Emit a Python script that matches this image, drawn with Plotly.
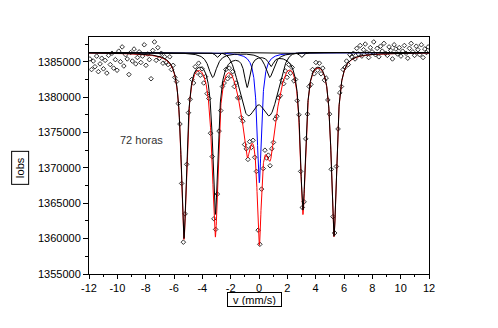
import numpy as np
import plotly.graph_objects as go

# ---------------- data ----------------
BASELINE = 1386300  # counts, off-resonance level of the fit

# observed counts (in thousands), one per velocity channel, -11.94 .. 11.94 mm/s
obs_thousands = [
    1385.4, 1383.9, 1385.1, 1384.3, 1385.8, 1383.6, 1384.7, 1385.5, 1384.0, 1385.2,
    1383.4, 1385.9, 1384.6, 1386.2, 1384.1, 1385.3, 1383.8, 1386.5, 1385.0, 1387.1,
    1384.4, 1386.0, 1385.4, 1383.2, 1386.3, 1385.1, 1386.8, 1384.7, 1385.6, 1386.4,
    1384.9, 1385.8, 1387.4, 1384.5, 1386.1, 1385.3, 1382.6, 1386.6, 1387.8, 1385.2,
    1387.0, 1385.5, 1386.2, 1384.8, 1385.7, 1384.9, 1384.6, 1385.7, 1383.9, 1384.5,
    1382.8, 1382.2, 1379.1, 1376.2, 1367.8, 1359.5, 1363.5, 1370.5, 1377.8, 1379.7,
    1382.5, 1382.0, 1384.3, 1383.5, 1384.8, 1383.1, 1384.0, 1382.0, 1382.9, 1380.5,
    1379.8, 1374.9, 1371.6, 1362.8, 1361.3, 1366.3, 1375.2, 1378.1, 1381.5, 1382.0,
    1383.9, 1382.6, 1384.1, 1383.0, 1383.6, 1381.5, 1382.0, 1379.9, 1379.9, 1377.1,
    1376.6, 1373.3, 1372.7, 1371.2, 1373.7, 1372.9, 1373.9, 1371.5, 1369.5, 1361.2,
    1359.2, 1367.0, 1369.9, 1372.5, 1371.4, 1371.8, 1370.3, 1372.7, 1373.6, 1376.9,
    1377.3, 1379.9, 1380.2, 1382.4, 1381.9, 1383.7, 1382.8, 1384.6, 1383.4, 1384.2,
    1382.3, 1382.5, 1379.5, 1377.5, 1369.5, 1364.4, 1365.2, 1374.1, 1377.6, 1381.5,
    1381.8, 1383.9, 1383.3, 1384.9, 1383.8, 1384.8, 1383.3, 1384.1, 1382.4, 1382.7,
    1379.6, 1377.6, 1369.8, 1363.1, 1360.8, 1370.2, 1375.5, 1380.6, 1381.5, 1383.9,
    1384.2, 1385.1, 1384.6, 1386.0, 1385.7, 1386.2, 1385.4, 1386.9, 1386.1, 1387.3,
    1385.8, 1386.7, 1387.5, 1386.3, 1385.6, 1387.0, 1386.4, 1387.8, 1386.0, 1386.9,
    1385.7, 1387.2, 1386.5, 1387.6, 1386.2, 1385.9, 1387.1, 1386.6, 1385.4, 1387.4,
    1386.8, 1386.1, 1387.0, 1385.8, 1386.5, 1387.3, 1386.2, 1385.5, 1386.9, 1387.6,
    1386.4, 1385.9, 1387.2, 1386.7, 1386.0, 1387.4, 1385.6, 1386.8, 1386.3, 1387.1,
]
V_FIRST, V_LAST = -11.94, 11.94

# fitted sub-spectra (line positions mm/s, depths in counts, widths mm/s)
sextet_pos = [-5.30, -3.08, -0.84, 0.84, 3.10, 5.29]
sextet_depth = [26000, 22500, 4500, 1500, 21900, 25700]
sextet_hwhm = 0.23

singlet_pos = [0.02]
singlet_depth = [18400]
singlet_hwhm = 0.19

broad_pos = [-0.80, 0.76]
broad_depth = [8600, 8600]
broad_sigma = 0.60

minor_pos = [-3.27, 0.75]
minor_depth = [3500, 3500]
minor_hwhm = 0.35

weak_pos = [-2.95, 3.00]
weak_depth = [700, 700]
weak_hwhm = 0.15

x_tickvals = [-12, -10, -8, -6, -4, -2, 0, 2, 4, 6, 8, 10, 12]
x_ticktext = ["-12", "-10", "-8", "-6", "-4", "-2", "0", "2", "4", "6", "8", "10", "12"]

# ---------------- build curves ----------------
vel = np.linspace(V_FIRST, V_LAST, len(obs_thousands))
counts = np.array(obs_thousands) * 1000.0
v = np.linspace(-12, 12, 2401)


def lorentz(pos, depth, hw):
    out = np.zeros_like(v)
    for c, d in zip(pos, depth):
        out += d / (1.0 + ((v - c) / hw) ** 2)
    return out


def gauss(pos, depth, s):
    out = np.zeros_like(v)
    for c, d in zip(pos, depth):
        out += d * np.exp(-((v - c) ** 2) / (2 * s * s))
    return out


sext = lorentz(sextet_pos, sextet_depth, sextet_hwhm)
sing = lorentz(singlet_pos, singlet_depth, singlet_hwhm)
broad = gauss(broad_pos, broad_depth, broad_sigma)
minor = lorentz(minor_pos, minor_depth, minor_hwhm)
weak = lorentz(weak_pos, weak_depth, weak_hwhm)
total = sext + sing + broad + minor + weak

FONT = "Liberation Sans, Arial, sans-serif"
fig = go.Figure()

fig.add_trace(go.Scatter(x=vel, y=counts, mode="markers",
                         marker=dict(symbol="diamond-open", size=3.5, color="black",
                                     line=dict(width=0.8, color="black"))))
fig.add_trace(go.Scatter(x=v, y=BASELINE - total, mode="lines",
                         line=dict(color="#ff0000", width=1)))
fig.add_trace(go.Scatter(x=v, y=BASELINE - sing, mode="lines",
                         line=dict(color="#0000ff", width=1)))
for comp in (broad, minor, weak):
    fig.add_trace(go.Scatter(x=v, y=BASELINE - comp, mode="lines",
                             line=dict(color="black", width=1)))
fig.add_trace(go.Scatter(x=v, y=BASELINE - sext, mode="lines",
                         line=dict(color="black", width=1)))

fig.update_layout(
    width=498, height=328,
    margin=dict(l=89, r=69, t=37, b=54),
    paper_bgcolor="white", plot_bgcolor="white",
    showlegend=False,
    font=dict(family=FONT, size=11, color="black"),
)
fig.update_xaxes(
    range=[-12, 12], tickvals=x_tickvals, ticktext=x_ticktext,
    ticks="outside", ticklen=4, tickwidth=1, tickcolor="black",
    showline=True, linecolor="black", linewidth=1, mirror=True,
    showgrid=False, zeroline=False,
    minor=dict(dtick=1, tick0=-12, ticks="outside", ticklen=2, tickcolor="black", showgrid=False),
    tickfont=dict(family=FONT, size=11, color="black"),
)
fig.update_yaxes(
    range=[1355000, 1388500], tick0=1355000, dtick=5000, tickformat="d",
    ticks="outside", ticklen=5, tickwidth=1, tickcolor="black",
    showline=True, linecolor="black", linewidth=1, mirror=True,
    showgrid=False, zeroline=False,
    minor=dict(dtick=2500, tick0=1355000, ticks="outside", ticklen=3, tickcolor="black", showgrid=False),
    tickfont=dict(family=FONT, size=11, color="black"),
)

fig.add_annotation(x=-8.3, y=1373900, xref="x", yref="y", text="72 horas",
                   xanchor="center", yanchor="middle",
                   showarrow=False, font=dict(family=FONT, size=11, color="#333"))
fig.add_annotation(x=-0.2015, y=0.45, xref="paper", yref="paper", text="Iobs",
                   textangle=-90, showarrow=False, bordercolor="black", borderwidth=1,
                   borderpad=2, xanchor="center", yanchor="middle", width=28,
                   font=dict(family=FONT, size=11, color="black"))
fig.add_annotation(x=0.486, y=-0.1055, xref="paper", yref="paper", text="v (mm/s)",
                   showarrow=False, bordercolor="black", borderwidth=1, borderpad=1,
                   xanchor="center", yanchor="middle", width=51, height=11,
                   font=dict(family=FONT, size=11, color="black"))

fig.write_html("out.html", config={"displayModeBar": False},
               post_script="document.body.style.margin='0';document.body.style.padding='0';")
